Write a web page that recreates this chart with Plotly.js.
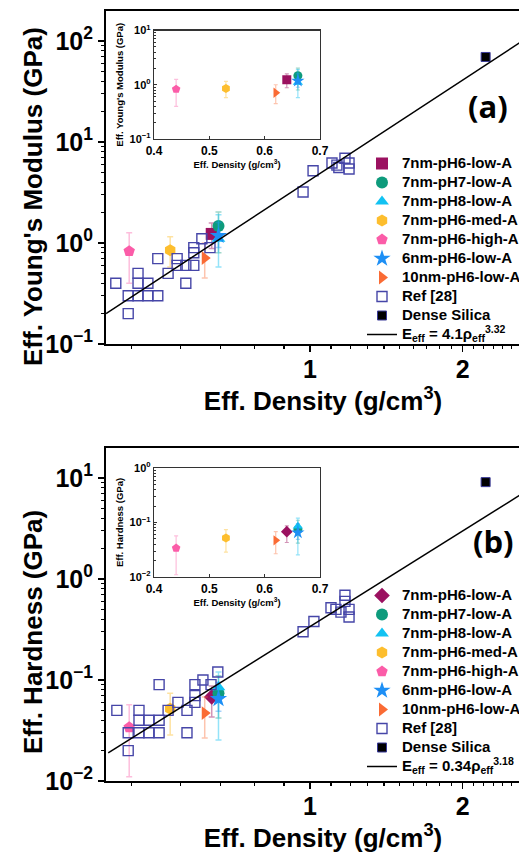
<!DOCTYPE html>
<html>
<head>
<meta charset="utf-8">
<script src="https://cdn.plot.ly/plotly-3.0.1.min.js"></script>
<style>
html,body{margin:0;padding:0;background:#fff;overflow:hidden;}
#chart{width:560px;height:854px;}
</style>
</head>
<body>
<div id="chart"></div>
<script>
// ---------------- data ----------------
const sampleNames = ['7nm-pH6-low-A','7nm-pH7-low-A','7nm-pH8-low-A','7nm-pH6-med-A','7nm-pH6-high-A','6nm-pH6-low-A','10nm-pH6-low-A'];
const sampleDensity = [0.64, 0.66, 0.66, 0.53, 0.44, 0.66, 0.62];
const modulus   = [1.23, 1.47, 1.10, 0.85, 0.83, 1.18, 0.71];
const modulusHi = [1.58, 2.03, 1.90, 1.15, 1.26, 1.60, 1.00];
const modulusLo = [0.88, 0.80, 0.58, 0.58, 0.40, 0.90, 0.45];
const hardness   = [0.068, 0.074, 0.085, 0.052, 0.034, 0.065, 0.047];
const hardnessHi = [0.087, 0.110, 0.120, 0.074, 0.057, 0.095, 0.068];
const hardnessLo = [0.043, 0.042, 0.0255, 0.0285, 0.011, 0.049, 0.0267];

const refDensityE = [0.414,0.438,0.438,0.458,0.458,0.458,0.479,0.479,0.501,0.501,0.525,0.547,0.547,0.569,0.569,0.590,0.590,0.590,0.612,0.635,0.969,1.014,1.105,1.130,1.140,1.172,1.194,1.194];
const refModulus  = [0.40,0.30,0.20,0.50,0.40,0.30,0.40,0.30,0.30,0.70,0.50,0.70,0.60,0.60,0.40,0.60,0.80,0.90,1.10,0.90,3.2,5.2,6.2,5.9,5.6,6.9,6.2,5.4];
const refDensityH = [0.416,0.438,0.438,0.460,0.460,0.460,0.481,0.481,0.504,0.504,0.504,0.525,0.549,0.572,0.572,0.593,0.593,0.593,0.615,0.638,0.658,0.969,1.018,1.100,1.125,1.151,1.172,1.172,1.194,1.194];
const refHardness = [0.050,0.030,0.020,0.050,0.040,0.030,0.040,0.030,0.040,0.030,0.090,0.050,0.060,0.050,0.030,0.070,0.090,0.060,0.100,0.090,0.120,0.30,0.38,0.52,0.50,0.47,0.69,0.60,0.50,0.42];

const silicaDensity = [2.22];
const silicaModulus = [69.5];
const silicaHardness = [9.1];

const fitDensityE = [0.396, 2.84];
const fitModulus  = [0.20, 130];
const fitDensityH = [0.400, 2.84];
const fitHardness = [0.019, 9.0];

const fitLabelE = 'E<sub>eff</sub> = 4.1ρ<sub>eff</sub><sup>3.32</sup>';
const fitLabelH = 'E<sub>eff</sub> = 0.34ρ<sub>eff</sub><sup>3.18</sup>';
const yTitleA = "Eff. Young's Modulus (GPa)";
const yTitleB = 'Eff. Hardness (GPa)';
const xTitle = 'Eff. Density (g/cm<sup>3</sup>)';

const decadeValsA = [0.1, 1, 10, 100];
const decadeTextA = ['10<sup>−1</sup>', '10<sup>0</sup>', '10<sup>1</sup>', '10<sup>2</sup>'];
const decadeValsB = [0.01, 0.1, 1, 10];
const decadeTextB = ['10<sup>−2</sup>', '10<sup>−1</sup>', '10<sup>0</sup>', '10<sup>1</sup>'];
const insetValsA = [0.1, 1, 10];
const insetTextA = ['10<sup>−1</sup>', '10<sup>0</sup>', '10<sup>1</sup>'];
const insetValsB = [0.01, 0.1, 1];
const insetTextB = ['10<sup>−2</sup>', '10<sup>−1</sup>', '10<sup>0</sup>'];

// ---------------- styles ----------------
const symbolsA = ['square','circle','triangle-up','hexagon','pentagon','star','triangle-right'];
const symbolsB = ['diamond','circle','triangle-up','hexagon','pentagon','star','triangle-right'];
const colors = ['#9b1160','#0e9b7c','#12c2f2','#fdbe2e','#fb5ca8','#1d8ff5','#fa6b34'];
const errColors = ['rgba(155,17,96,0.45)','rgba(14,155,124,0.4)','rgba(18,194,242,0.45)','rgba(253,190,46,0.45)','rgba(251,92,168,0.4)','rgba(29,143,245,0.4)','rgba(250,107,52,0.4)'];
const refColor = '#4646a8';
const FONT = 'Arial, "Liberation Sans", sans-serif';
const W = 560, H = 854;
const px = v => v / W;
const py = v => 1 - v / H;
const big = s => '<span style="font-size:15px">' + s + '</span>';

const traces = [];
function addPanel(yVals, yHi, yLo, syms, refX, refY, silY, fitX, fitY, fitLabel, xa, ya, xi, yi, leg) {
  for (let i = 0; i < sampleNames.length; i++) {
    const err = {type:'data', symmetric:false, array:[yHi[i]-yVals[i]], arrayminus:[yVals[i]-yLo[i]],
                 color: errColors[i], thickness:1.5, width:3};
    traces.push({x:[sampleDensity[i]], y:[yVals[i]], type:'scatter', mode:'markers', name: big(sampleNames[i]),
      xaxis:xa, yaxis:ya, legend:leg, marker:{symbol:syms[i], size: syms[i]==='star'?13:12, color:colors[i], line:{width:0}},
      error_y: err});
    traces.push({x:[sampleDensity[i]], y:[yVals[i]], type:'scatter', mode:'markers', showlegend:false,
      xaxis:xi, yaxis:yi, marker:{symbol:syms[i], size: syms[i]==='star'?10:9, color:colors[i], line:{width:0}},
      error_y: Object.assign({}, err, {width:2, thickness:1.2})});
  }
  traces.push({x:refX, y:refY, type:'scatter', mode:'markers', name: big('Ref [28]'), xaxis:xa, yaxis:ya, legend:leg,
    marker:{symbol:'square-open', size:10, color:refColor, line:{width:1.4, color:refColor}}});
  traces.push({x:silicaDensity, y:silY, type:'scatter', mode:'markers', name: big('Dense Silica'), xaxis:xa, yaxis:ya, legend:leg,
    marker:{symbol:'square', size:9, color:'#000', line:{width:1, color:'#3a3a9a'}}});
  traces.push({x:fitX, y:fitY, type:'scatter', mode:'lines', name: big(fitLabel), xaxis:xa, yaxis:ya, legend:leg,
    line:{color:'#000', width:1.5}});
}
addPanel(modulus, modulusHi, modulusLo, symbolsA, refDensityE, refModulus, silicaModulus, fitDensityE, fitModulus, fitLabelE, 'x', 'y', 'x2', 'y2', 'legend');
addPanel(hardness, hardnessHi, hardnessLo, symbolsB, refDensityH, refHardness, silicaHardness, fitDensityH, fitHardness, fitLabelH, 'x3', 'y3', 'x4', 'y4', 'legend2');

// ---------------- axes ----------------
function logMinor(lo, hi) {
  const v = [];
  for (let e = lo; e <= hi; e++) for (let m = 2; m <= 9; m++) v.push(m * Math.pow(10, e));
  return v;
}
const xMinor = [4/9, 5/9, 6/9, 7/9, 8/9, 1.1, 1.2, 1.3, 1.4, 1.5, 1.6, 1.7, 1.8, 1.9, 2.1, 2.2, 2.3, 2.4, 2.5, 2.6, 2.7, 2.8];
const tickFont = {family: FONT, size: 25, color:'#000', weight:'bold'};
const titleFont = {family: FONT, size: 26, color:'#000', weight:'bold'};
const xMain = (anchor, standoff) => ({
  type:'log', range:[Math.log10(0.396), 0.4536], domain:[px(106), px(540)], anchor: anchor,
  showline:true, linewidth:2, linecolor:'#000', mirror:true, showgrid:false, zeroline:false,
  ticks:'outside', ticklen:6, tickwidth:1.5, tickcolor:'#000',
  tickmode:'array', tickvals:[1,2], ticktext:['1','2'], tickfont: tickFont, ticklabelstandoff: -4,
  minor:{tickmode:'array', tickvals:xMinor, ticks:'outside', ticklen:3, tickwidth:1.2, tickcolor:'#000', showgrid:false},
  title:{text: xTitle, font: titleFont, standoff: standoff}
});
const yMain = (range, dom, lo, hi, vals, text, anchor) => ({
  type:'log', range: range, domain: dom, anchor: anchor,
  showline:true, linewidth:2, linecolor:'#000', mirror:true, showgrid:false, zeroline:false,
  ticks:'outside', ticklen:6, tickwidth:1.5, tickcolor:'#000',
  tickmode:'array', tickvals: vals, ticktext: text, tickfont: tickFont,
  minor:{tickmode:'array', tickvals: logMinor(lo, hi), ticks:'outside', ticklen:3, tickwidth:1.2, tickcolor:'#000', showgrid:false}
});
const inFont = {family: FONT, size: 12, color:'#000', weight:'bold'};
const inTitleFont = {family: FONT, size: 9.5, color:'#000', weight:'bold'};
const xInset = (anchor) => ({
  type:'linear', range:[0.4, 0.7], domain:[px(154), px(320)], anchor: anchor,
  showline:true, linewidth:1.2, linecolor:'#333', mirror:true, showgrid:false, zeroline:false,
  ticks:'inside', ticklen:3, tickcolor:'#333', dtick:0.1, tickformat:'.1f', tickfont: inFont,
  title:{text: xTitle, font: inTitleFont, standoff: 4}
});
const yInset = (range, dom, title, anchor, vals, text, lo, hi) => ({
  type:'log', range: range, domain: dom, anchor: anchor,
  showline:true, linewidth:1.2, linecolor:'#333', mirror:true, showgrid:false, zeroline:false,
  ticks:'inside', ticklen:3, tickcolor:'#333', tickmode:'array', tickvals: vals, ticktext: text,
  tickfont: {family: FONT, size: 11, color:'#000', weight:'bold'},
  minor:{tickmode:'array', tickvals: logMinor(lo, hi), ticks:'inside', ticklen:2, tickcolor:'#333', showgrid:false},
  title:{text: title, font: inTitleFont, standoff: 4}
});

const legendBase = (top) => ({
  x: px(362), xanchor:'left', y: py(top), yanchor:'top', bgcolor:'rgba(0,0,0,0)', borderwidth:0,
  font:{family: FONT, size:12, color:'#000', weight:'bold'}, traceorder:'normal', itemsizing:'trace'
});

const layout = {
  width: W, height: H, margin:{l:0, r:0, t:0, b:0}, autosize:false,
  paper_bgcolor:'#fff', plot_bgcolor:'#fff', showlegend:true,
  xaxis: xMain('y', 3),
  yaxis: yMain([-1, 2.297], [py(344), py(11)], -1, 2, decadeValsA, decadeTextA, 'x'),
  xaxis2: xInset('y2'),
  yaxis2: yInset([-1, 1], [py(139), py(30.5)], yTitleA, 'x2', insetValsA, insetTextA, -1, 0),
  xaxis3: xMain('y3', 10),
  yaxis3: yMain([-2, 1.297], [py(781), py(448)], -2, 1, decadeValsB, decadeTextB, 'x3'),
  xaxis4: xInset('y4'),
  yaxis4: yInset([-2, 0], [py(577), py(468)], yTitleB, 'x4', insetValsB, insetTextB, -2, -1),
  legend: legendBase(149),
  legend2: legendBase(581),
  annotations: [
    {text: yTitleA, xref:'paper', yref:'paper', x: px(33), y: py(197), textangle:-90, xanchor:'center', yanchor:'middle', showarrow:false,
     font: titleFont},
    {text: yTitleB, xref:'paper', yref:'paper', x: px(33), y: py(632), textangle:-90, xanchor:'center', yanchor:'middle', showarrow:false,
     font: titleFont},
    {text:'<b>(a)</b>', xref:'paper', yref:'paper', x: px(488), y: py(106), xanchor:'center', yanchor:'middle', showarrow:false,
     font:{family:'"Open Sans", Arial, sans-serif', size:31, color:'#000'}},
    {text:'<b>(b)</b>', xref:'paper', yref:'paper', x: px(493), y: py(541), xanchor:'center', yanchor:'middle', showarrow:false,
     font:{family:'"Open Sans", Arial, sans-serif', size:31, color:'#000'}}
  ]
};

Plotly.newPlot('chart', traces, layout, {staticPlot:true, displayModeBar:false});
</script>
</body>
</html>
